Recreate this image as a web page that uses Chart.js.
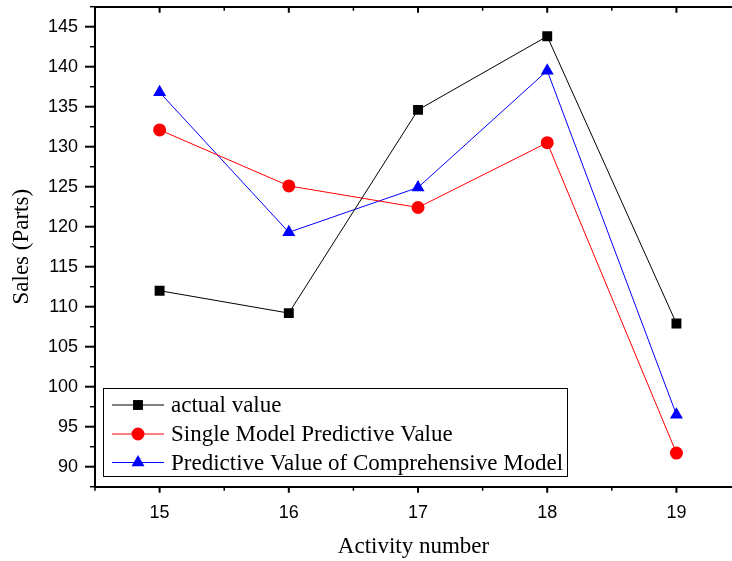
<!DOCTYPE html>
<html>
<head>
<meta charset="utf-8">
<script src="https://cdn.jsdelivr.net/npm/chart.js@4/dist/chart.umd.min.js"></script>
<style>
html,body{margin:0;padding:0;background:#fff;overflow:hidden;}
canvas{display:block;}
</style>
</head>
<body>
<canvas id="c" width="732" height="561"></canvas>
<script>
// ---- data ----
const categories = [15, 16, 17, 18, 19];
const actualValue = [112.0, 109.2, 134.6, 143.8, 107.9];
const singleModel = [132.1, 125.1, 122.4, 130.5, 91.7];
const comprehensiveModel = [136.8, 119.3, 124.9, 139.5, 96.5];
const yTicks = [90, 95, 100, 105, 110, 115, 120, 125, 130, 135, 140, 145];
const seriesNames = ['actual value', 'Single Model Predictive Value', 'Predictive Value of Comprehensive Model'];
const xTitle = 'Activity number';
const yTitle = 'Sales (Parts)';

const pts = arr => categories.map((c, i) => ({x: c, y: arr[i]}));

const tickFont = {family: '"Liberation Sans", Arial, sans-serif', size: 18};
const titleFont = {family: '"Liberation Serif", "Times New Roman", serif', size: 23};

function noPad(s) { s.paddingTop = 0; s.paddingBottom = 0; s.paddingLeft = 0; s.paddingRight = 0; }

const tickMarks = {
  id: 'tickMarks',
  afterDraw(chart) {
    const ctx = chart.ctx;
    const x = chart.scales.x, y = chart.scales.y;
    const ca = chart.chartArea;
    ctx.save();
    ctx.strokeStyle = '#000';
    for (let v = y.min; v <= y.max + 1e-6; v += 2.5) {
      const major = yTicks.includes(Math.round(v * 10) / 10);
      const py = y.getPixelForValue(v);
      ctx.lineWidth = major ? 2 : 1.5;
      ctx.beginPath();
      ctx.moveTo(ca.left, py);
      ctx.lineTo(ca.left - (major ? 10 : 5), py);
      ctx.stroke();
    }
    for (let v = 14.5; v <= x.max + 1e-6; v += 0.5) {
      const major = categories.includes(v);
      const px = x.getPixelForValue(v);
      const len = major ? 6 : 4;
      ctx.lineWidth = major ? 2 : 1.5;
      ctx.beginPath();
      ctx.moveTo(px, ca.bottom);
      ctx.lineTo(px, ca.bottom + len);
      ctx.moveTo(px, ca.top);
      ctx.lineTo(px, ca.top + len);
      ctx.stroke();
    }
    ctx.restore();
  }
};

function drawMarker(ctx, style, cx, cy, r, color) {
  ctx.fillStyle = color;
  ctx.beginPath();
  if (style === 'rect') {
    const s = Math.SQRT1_2 * r;
    ctx.rect(cx - s, cy - s, 2 * s, 2 * s);
  } else if (style === 'circle') {
    ctx.arc(cx, cy, r, 0, Math.PI * 2);
  } else if (style === 'triangle') {
    ctx.moveTo(cx, cy - r);
    ctx.lineTo(cx + 0.866 * r, cy + 0.5 * r);
    ctx.lineTo(cx - 0.866 * r, cy + 0.5 * r);
    ctx.closePath();
  }
  ctx.fill();
}

const boxLegend = {
  id: 'boxLegend',
  afterDraw(chart) {
    const ctx = chart.ctx;
    const bx = 103.5, by = 388.5, bw = 464, bh = 88;
    ctx.save();
    ctx.fillStyle = '#fff';
    ctx.fillRect(bx, by, bw, bh);
    ctx.strokeStyle = '#000';
    ctx.lineWidth = 1;
    ctx.strokeRect(bx, by, bw, bh);
    const rows = [405, 434, 462.5];
    chart.data.datasets.forEach((ds, i) => {
      const ry = rows[i];
      ctx.strokeStyle = ds.borderColor;
      ctx.lineWidth = 1;
      ctx.beginPath();
      ctx.moveTo(112, ry);
      ctx.lineTo(164, ry);
      ctx.stroke();
      drawMarker(ctx, ds.pointStyle, 138, ry, ds.pointRadius, ds.backgroundColor);
      ctx.fillStyle = '#000';
      ctx.font = '23px "Liberation Serif", "Times New Roman", serif';
      ctx.textBaseline = 'middle';
      ctx.textAlign = 'left';
      ctx.fillText(ds.label, 171, ry + 1);
    });
    ctx.restore();
  }
};

new Chart(document.getElementById('c'), {
  type: 'line',
  data: {
    datasets: [
      {label: seriesNames[0], data: pts(actualValue), borderColor: '#000000', backgroundColor: '#000000',
       pointStyle: 'rect', pointRadius: 7, borderWidth: 1, pointBorderWidth: 0},
      {label: seriesNames[1], data: pts(singleModel), borderColor: '#ff0000', backgroundColor: '#ff0000',
       pointStyle: 'circle', pointRadius: 6.5, borderWidth: 1, pointBorderWidth: 0},
      {label: seriesNames[2], data: pts(comprehensiveModel), borderColor: '#0000ff', backgroundColor: '#0000ff',
       pointStyle: 'triangle', pointRadius: 7.5, borderWidth: 1, pointBorderWidth: 0}
    ]
  },
  options: {
    responsive: false,
    animation: false,
    devicePixelRatio: 1,
    layout: {autoPadding: false, padding: 0},
    plugins: {legend: {display: false}, tooltip: {enabled: false}},
    scales: {
      x: {
        type: 'linear', position: 'bottom', min: 14.5, max: 19.43,
        afterBuildTicks: s => { s.ticks = categories.map(v => ({value: v})); },
        afterFit: s => { s.height = 74.3; noPad(s); },
        grid: {drawOnChartArea: false, drawTicks: false},
        border: {display: true, color: '#000', width: 2},
        ticks: {color: '#000', font: tickFont, padding: 16, maxRotation: 0, autoSkip: false},
        title: {display: true, text: xTitle, color: '#000', font: titleFont, padding: {top: 0, bottom: 0}}
      },
      x2: {
        type: 'linear', position: 'top', min: 14.5, max: 19.43,
        afterFit: s => { s.height = 6.7; noPad(s); },
        grid: {drawOnChartArea: false, drawTicks: false},
        border: {display: true, color: '#000', width: 2},
        ticks: {display: false}
      },
      y: {
        type: 'linear', position: 'left', min: 87.5, max: 147.5,
        afterBuildTicks: s => { s.ticks = yTicks.map(v => ({value: v})); },
        afterFit: s => { s.width = 95; noPad(s); },
        grid: {drawOnChartArea: false, drawTicks: false},
        border: {display: true, color: '#000', width: 2},
        ticks: {color: '#000', font: tickFont, padding: 17, autoSkip: false},
        title: {display: true, text: yTitle, color: '#000', font: titleFont, padding: {top: 8, bottom: 0}}
      }
    }
  },
  plugins: [tickMarks, boxLegend]
});
</script>
</body>
</html>
